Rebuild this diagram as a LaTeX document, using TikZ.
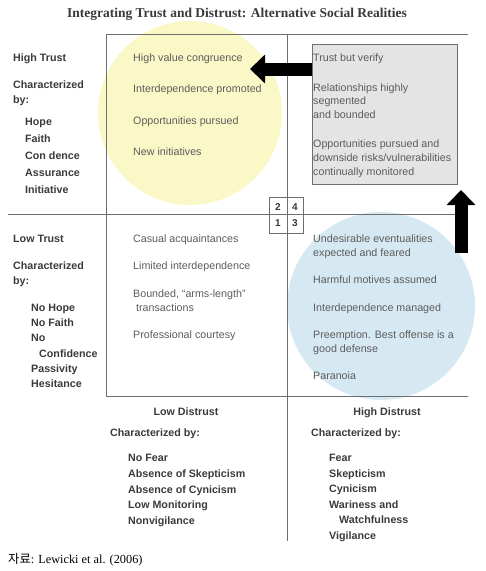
\documentclass[tikz,border=0pt]{standalone}
\usepackage{fontspec}
\setmainfont{Liberation Sans}
\newfontfamily\titlefont{Liberation Serif}
\newfontfamily\krfont{Noto Sans CJK KR}
\usetikzlibrary{arrows.meta}
\definecolor{linegray}{HTML}{6E6E6E}
\definecolor{textgray}{HTML}{5C5C5C}
\definecolor{lblgray}{HTML}{3A3A3A}
\definecolor{yellowfill}{HTML}{FAF8C6}
\definecolor{bluefill}{HTML}{D6E9F2}
\definecolor{boxfill}{HTML}{E4E4E4}
\begin{document}
\begin{tikzpicture}[x=1pt,y=-1pt,
  txt/.style={anchor=base west, inner sep=0pt, font=\fontsize{10.7}{13}\selectfont, text=textgray},
  lbl/.style={anchor=base west, inner sep=0pt, font=\fontsize{10.7}{13}\selectfont\bfseries, text=lblgray},
  head/.style={lbl, anchor=base},
  axis/.style={draw=linegray, line width=0.9pt},
  bigarrow/.style={line width=13pt, black, -{Triangle[length=15pt,width=28pt]}},
  num/.style={inner sep=0pt, font=\fontsize{10}{11}\selectfont\bfseries, text=lblgray}]
\useasboundingbox (0,0) rectangle (486,571);
% circles
\fill[yellowfill] (190,113) circle[radius=92];
\fill[bluefill] (381,306) circle[radius=94];
% gray box
\node[draw=linegray, fill=boxfill, line width=0.9pt, anchor=north west, minimum width=145pt, minimum height=140pt, inner sep=0pt] (gray) at (312,44) {};
% axes
\draw[axis] (106,396) -- (106,34) -- (468,34);
\draw[axis] (287,34) -- (287,541);
\draw[axis] (8,214) -- (468,214);
\draw[axis] (106,396) -- (468,396);
% small number box
\node[draw=linegray, line width=0.9pt, minimum width=34pt, minimum height=36pt, inner sep=0pt] (numbox) at (286,215) {};
\node[num] (n2) at (278,207) {2};
\node[num] (n4) at (295,207) {4};
\node[num] (n1) at (278,223) {1};
\node[num] (n3) at (295,223) {3};
% arrows
\coordinate (arL0) at (312,69);
\coordinate (arL1) at (250,69);
\draw[bigarrow] (arL0) -- (arL1);
\coordinate (arU0) at (461,253);
\coordinate (arU1) at (461,190);
\draw[bigarrow] (arU0) -- (arU1);
% title
\node[anchor=base, inner sep=0pt, font=\titlefont\fontsize{13.5}{16}\selectfont\bfseries, text=lblgray] (title) at (237,17) {Integrating Trust and Distrust: Alternative Social Realities};
% left labels (high trust)
\node[lbl] (ht) at (13,61) {High Trust};
\node[lbl] (htc1) at (13,88) {Characterized};
\node[lbl] (htc2) at (13,103) {by:};
\node[lbl] (ht1) at (25,125) {Hope};
\node[lbl] (ht2) at (25,142) {Faith};
\node[lbl] (ht3) at (25,159) {Con dence};
\node[lbl] (ht4) at (25,176) {Assurance};
\node[lbl] (ht5) at (25,193) {Initiative};
% left labels (low trust)
\node[lbl] (lt) at (13,242) {Low Trust};
\node[lbl] (ltc1) at (13,269) {Characterized};
\node[lbl] (ltc2) at (13,284) {by:};
\node[lbl] (lt1) at (31,311) {No Hope};
\node[lbl] (lt2) at (31,326) {No Faith};
\node[lbl] (lt3) at (31,341) {No};
\node[lbl] (lt3b) at (39,357) {Confidence};
\node[lbl] (lt4) at (31,372) {Passivity};
\node[lbl] (lt5) at (31,387) {Hesitance};
% quadrant 2
\node[txt] (q2a) at (133,61) {High value congruence};
\node[txt] (q2b) at (133,92) {Interdependence promoted};
\node[txt] (q2c) at (133,124) {Opportunities pursued};
\node[txt] (q2d) at (133,155) {New initiatives};
% quadrant 4 (gray box)
\node[txt] (q4a) at (313,61) {Trust but verify};
\node[txt] (q4b1) at (313,91) {Relationships highly};
\node[txt] (q4b2) at (313,104) {segmented};
\node[txt] (q4b3) at (313,118) {and bounded};
\node[txt] (q4c1) at (313,147) {Opportunities pursued and};
\node[txt] (q4c2) at (313,161) {downside risks/vulnerabilities};
\node[txt] (q4c3) at (313,175) {continually monitored};
% quadrant 1
\node[txt] (q1a) at (133,242) {Casual acquaintances};
\node[txt] (q1b) at (133,269) {Limited interdependence};
\node[txt] (q1c1) at (133,297) {Bounded, “arms-length”};
\node[txt] (q1c2) at (136,311) {transactions};
\node[txt] (q1d) at (133,338) {Professional courtesy};
% quadrant 3
\node[txt] (q3a1) at (313,242) {Undesirable eventualities};
\node[txt] (q3a2) at (313,256) {expected and feared};
\node[txt] (q3b) at (313,283) {Harmful motives assumed};
\node[txt] (q3c) at (313,311) {Interdependence managed};
\node[txt] (q3d1) at (313,338) {Preemption. Best offense is a};
\node[txt] (q3d2) at (313,352) {good defense};
\node[txt] (q3e) at (313,379) {Paranoia};
% bottom: low distrust
\node[head] (ld) at (186,415) {Low Distrust};
\node[lbl] (ldc) at (110,436) {Characterized by:};
\node[lbl] (ld1) at (128,461) {No Fear};
\node[lbl] (ld2) at (128,477) {Absence of Skepticism};
\node[lbl] (ld3) at (128,493) {Absence of Cynicism};
\node[lbl] (ld4) at (128,508) {Low Monitoring};
\node[lbl] (ld5) at (128,524) {Nonvigilance};
% bottom: high distrust
\node[head] (hd) at (387,415) {High Distrust};
\node[lbl] (hdc) at (311,436) {Characterized by:};
\node[lbl] (hd1) at (329,461) {Fear};
\node[lbl] (hd2) at (329,477) {Skepticism};
\node[lbl] (hd3) at (329,492) {Cynicism};
\node[lbl] (hd4) at (329,508) {Wariness and};
\node[lbl] (hd4b) at (339,523) {Watchfulness};
\node[lbl] (hd5) at (329,539) {Vigilance};
% caption
\node[anchor=base west, inner sep=0pt, font=\fontsize{12.3}{14}\selectfont, text=black] (cap) at (8,563) {{\krfont 자료}{\titlefont : Lewicki et al. (2006)}};
\end{tikzpicture}
\end{document}
